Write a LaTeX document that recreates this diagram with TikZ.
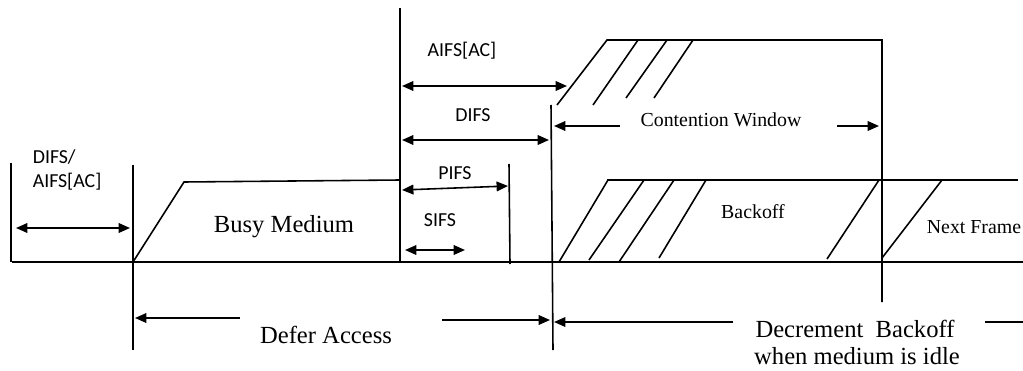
\documentclass[tikz,border=0pt]{standalone}
\usepackage{fontspec}
\setmainfont{Liberation Serif}
\setsansfont{Carlito}
\usepackage{tikz}
\usetikzlibrary{arrows.meta,positioning}

\begin{document}
\begin{tikzpicture}[
  x=0.02cm,y=-0.02cm,
  line width=0.9pt,
  >={Triangle[length=6.5pt,width=5.5pt]},
  ifs/.style={font=\sffamily\fontsize{11.3}{14.2}\selectfont,inner sep=0pt,anchor=base,align=left},
  big/.style={font=\fontsize{14}{15}\selectfont,inner sep=0pt,anchor=base},
  small/.style={font=\fontsize{11.3}{13}\selectfont,inner sep=0pt,anchor=base},
  dim/.style={<->},
]
\useasboundingbox (0,0) rectangle (1023,371);
% time line and slot boundaries
\coordinate (t0) at (11,262);
\coordinate (t1) at (133,262);
\coordinate (t2) at (400,262);
\coordinate (t3) at (509,262);
\coordinate (t4) at (552,262);
\coordinate (t5) at (882,262);
\draw (12,262) -- (1023,262);
\draw (11,163) -- (t0);
\draw (133,165) -- (133,350);
\draw (400,8) -- (t2);
\draw (509,164) -- (510,264);
\draw (551,105) -- (553,350);
% busy medium
\draw (t1) -- (184,182) -- (400,180);
\node[big] (busy) at (284,232) {Busy Medium};
% contention window
\draw (557,105) -- (607,40) -- (882,40) -- (882,302);
\foreach \a/\b/\c in {593/105/638,626/98/667,654/98/693}
  \draw (\a,\b) -- (\c,40);
% backoff slots
\draw (607,180) -- (1018,180);
\foreach \a/\b/\c in {559/262/608,589/260/644,619/262/674,659/258/706,827/259/879,882/258/942}
  \draw (\a,\b) -- (\c,180);
\node[small] (boff) at (753,218) {Backoff};
\node[small] (next) at (974,233) {Next Frame};
% interframe spaces
\node[ifs,anchor=base west] (difsaifs) at (32,188) {DIFS/\\AIFS[AC]};
\draw[dim] (16,228) -- (130,228);
\node[ifs] (aifs) at (462,57) {AIFS[AC]};
\draw[dim] (402,86) -- (567,86);
\node[ifs] (difs) at (473,122) {DIFS};
\draw[dim] (402,140) -- (549,140);
\node[ifs] (pifs) at (455,179) {PIFS};
\draw[dim] (402,190) -- (508,186);
\node[ifs] (sifs) at (440,226) {SIFS};
\draw[dim] (405,250) -- (465,250);
% window and access labels
\node[small] (cw) at (721,127) {Contention Window};
\draw[->] (620,126) -- (554,126);
\draw[->] (837,126) -- (879,126);
\node[big] (defer) at (326,343) {Defer Access};
\draw[->] (240,318) -- (135,318);
\draw[->] (442,320) -- (550,320);
\node[big] (decr) at (855,337) {Decrement~~Backoff};
\node[big] (idle) at (857,364) {when medium is idle};
\draw[->] (733,322) -- (554,322);
\draw (985,322) -- (1023,322);
\end{tikzpicture}
\end{document}
